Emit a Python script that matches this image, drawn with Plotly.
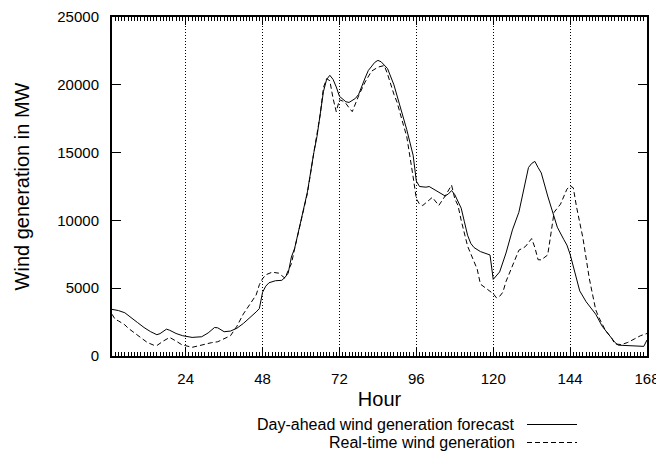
import plotly.graph_objects as go

# Day-ahead wind generation forecast (solid)
fc_hours = [1, 3, 5, 7, 9, 11, 13, 15, 16, 18, 19, 21, 23, 26, 29, 31, 33, 34, 36, 38,
            40, 42, 44, 46, 47, 48, 49, 50, 52, 54, 55, 56, 57, 58, 60, 62, 64, 65, 67, 68,
            69, 70, 71, 72, 74, 75, 77, 78, 80, 81, 83, 84, 85, 87, 89, 90, 92, 93, 95, 96,
            97, 99, 100, 102, 104, 105, 106, 107, 108, 110, 111, 112, 113, 114, 116, 119, 120, 122, 124, 126,
            128, 130, 131, 132, 133, 134, 135, 137, 139, 140, 142, 143, 144, 146, 147, 149, 151, 152, 154, 156,
            158, 159, 161, 164, 167, 168]
fc_values = [3440, 3350, 3190, 2800, 2460, 2100, 1800, 1570, 1650, 1980, 1900, 1660, 1500, 1370, 1420, 1700, 2100, 2080, 1790, 1840,
             2050, 2400, 2800, 3250, 3500, 4700, 5150, 5400, 5550, 5580, 5800, 6110, 7300, 7930, 10000, 12100, 15000, 16200, 19500, 20400,
             20700, 20400, 19840, 19150, 18750, 18700, 19000, 19300, 20500, 21050, 21650, 21800, 21700, 21200, 20000, 19200, 17500, 16700, 14800, 12900,
             12500, 12450, 12500, 12200, 11950, 11800, 11950, 12200, 11900, 10900, 9900, 8900, 8300, 8000, 7700, 7450, 5650, 6200, 7600, 9300,
             10600, 12700, 13900, 14200, 14350, 13900, 13500, 11800, 10200, 9500, 8600, 8180, 7500, 5700, 4800, 4000, 3400, 3080, 2200, 1600,
             1000, 800, 770, 760, 710, 1180]

# Real-time wind generation (dashed)
rt_hours = [1, 2, 3, 5, 6, 8, 10, 12, 14, 15, 17, 19, 21, 23, 24, 26, 28, 30, 32, 34,
            36, 38, 40, 42, 44, 46, 47, 48, 49, 51, 53, 55, 56, 57, 58, 60, 62, 64, 66, 67,
            68, 69, 70, 71, 72, 73, 74, 75, 76, 78, 80, 82, 84, 86, 87, 89, 90, 92, 93, 95,
            96, 97, 98, 100, 101, 103, 105, 107, 108, 109, 110, 112, 114, 115, 116, 118, 119, 120, 121, 122,
            123, 124, 126, 128, 130, 132, 133, 134, 135, 137, 138, 139, 141, 143, 144, 145, 146, 147, 148, 150,
            152, 153, 155, 157, 158, 160, 162, 164, 166, 168]
rt_values = [3080, 2700, 2590, 2300, 2060, 1700, 1350, 1000, 800, 770, 1100, 1370, 1100, 800, 760, 640, 750, 880, 980, 1050,
             1300, 1500, 2200, 3100, 3800, 4500, 5260, 5700, 5990, 6180, 6110, 5740, 6300, 6800, 7900, 9900, 12000, 15000, 17800, 19800,
             20450, 20300, 19000, 18020, 18900, 18800, 18630, 18300, 18020, 19200, 20200, 21000, 21300, 21420, 20800, 19300, 18700, 17000, 16200, 13200,
             11600, 11200, 11100, 11500, 11700, 11100, 11800, 12600, 11600, 11100, 10000, 8100, 7000, 6400, 5300, 4900, 4770, 4600, 4290, 4400,
             4700, 5500, 6700, 7800, 8060, 8660, 8000, 7100, 7090, 7450, 9000, 10600, 11200, 12300, 12550, 12400, 11000, 9800, 8700, 5700,
             3400, 2830, 1900, 1300, 890, 840, 1000, 1250, 1500, 1660]

x_ticks = [24, 48, 72, 96, 120, 144, 168]
y_ticks = [0, 5000, 10000, 15000, 20000, 25000]
series_names = ["Day-ahead wind generation forecast", "Real-time wind generation"]
series_dash = ["solid", "5px,3px"]

FONT = "Liberation Sans, Arial, sans-serif"

fig = go.Figure()
fig.add_trace(go.Scatter(x=fc_hours, y=fc_values, mode="lines", name=series_names[0],
                         line=dict(color="black", width=1, dash=series_dash[0])))
fig.add_trace(go.Scatter(x=rt_hours, y=rt_values, mode="lines", name=series_names[1],
                         line=dict(color="black", width=1, dash=series_dash[1])))

# page body has an 8px default margin, so the figure is sized to fit inside the window
fig.update_layout(
    width=656, height=447,
    margin=dict(l=104, r=17, t=9, b=99),
    paper_bgcolor="white", plot_bgcolor="white",
    showlegend=False,
    font=dict(family=FONT, color="black", size=15),
    xaxis=dict(
        range=[1, 168], tickmode="linear", tick0=x_ticks[0], dtick=x_ticks[1] - x_ticks[0],
        ticks="inside", ticklen=8, tickwidth=1, ticklabelstandoff=8, ticklabeloverflow="allow",
        tickcolor="black", showline=True, linecolor="black", linewidth=2, mirror="ticks",
        showgrid=True, gridcolor="black", griddash="1px,2px", gridwidth=1,
        zeroline=False, tickfont=dict(size=15), automargin=False,
        minor=dict(dtick=1, tick0=0, ticks="inside", ticklen=4, tickwidth=1,
                   tickcolor="black", showgrid=False),
        title=dict(text="Hour", font=dict(size=20), standoff=6),
    ),
    yaxis=dict(
        range=[0, 25000], tickmode="array", tickvals=y_ticks,
        ticktext=[str(v) for v in y_ticks], ticks="inside", ticklen=9, tickwidth=1,
        ticklabelstandoff=8, ticklabeloverflow="allow",
        tickcolor="black", showline=True, linecolor="black", linewidth=2, mirror="ticks",
        showgrid=False, zeroline=False, tickfont=dict(size=15), automargin=False,
        title=dict(text="Wind generation in MW", font=dict(size=20), standoff=22),
    ),
)

# gnuplot-style legend: label right-aligned, line sample to its right
legend_y = [-0.2021, -0.2552]
for name, dash, ly in zip(series_names, series_dash, legend_y):
    fig.add_annotation(xref="paper", yref="paper", x=0.7533, y=ly, text=name,
                       showarrow=False, xanchor="right", yanchor="middle",
                       xshift=2, font=dict(size=16, family=FONT))
    fig.add_shape(type="line", xref="paper", yref="paper", x0=0.7757, x1=0.8692, y0=ly, y1=ly,
                  line=dict(color="black", width=1, dash=dash))

fig.write_html("out.html")
